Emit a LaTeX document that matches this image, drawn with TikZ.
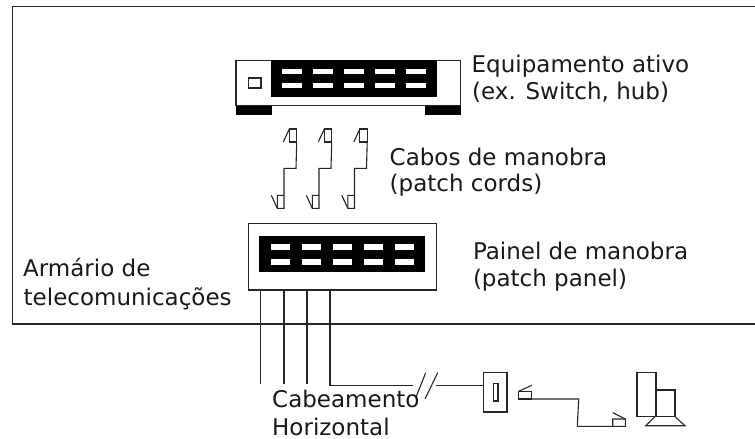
\documentclass[tikz,border=0pt]{standalone}
\usepackage{fontspec}
\setmainfont{DejaVu Sans}
\tikzset{
  ln/.style={draw=black!85,line width=1.1pt},
  blk/.style={fill=black},
  slot/.style={fill=white},
  lbl/.style={anchor=base west,inner sep=0pt,font=\fontsize{23}{27}\selectfont,text=black!90},
}
\newcommand{\cord}[1]{\begin{scope}[xshift=#1pt]
  \draw[ln] (289.3,129) rectangle (296.7,142);
  \draw[ln] (283.3,142) -- (289.3,129);
  \draw[ln] (296.7,142) -- (296,168.3) -- (284,168.3) -- (284,208.3) -- (277.3,208.3) -- (277.3,195.3) -- (284,195.3);
  \draw[ln] (277.3,208.3) -- (271.3,195.3);
\end{scope}}
\begin{document}
\begin{tikzpicture}[x=1pt,y=-1pt]
\useasboundingbox (0,0) rectangle (755,439);
% room frame
\draw[ln] (755,6.5) -- (12.5,6.5) -- (12.5,324) -- (755,324);
% active equipment
\draw[ln,fill=white] (236,60.3) rectangle (460.7,105.7);
\fill[blk] (271.3,60) rectangle (436.7,97.3);
\fill[blk] (236,105.5) rectangle (272,115);
\fill[blk] (424.5,105.5) rectangle (461,115);
\foreach \x in {282,313,344,375,405.7}{
  \fill[slot] (\x,68.7) rectangle +(20,5.3);
  \fill[slot] (\x,83) rectangle +(20,5.3);
}
\draw[ln] (248.3,78) rectangle (261,88);
% patch cords
\cord{0}\cord{35}\cord{70.5}
% patch panel
\draw[ln] (248.3,223.7) rectangle (436.3,290);
\fill[blk] (259.3,236.3) rectangle (425.3,272.3);
\foreach \x in {271,302,333,364,394.7}{
  \fill[slot] (\x,244.3) rectangle +(19,6);
  \fill[slot] (\x,258.7) rectangle +(19,6.3);
}
% horizontal cabling
\draw[ln] (260.7,290) -- (260.7,384);
\draw[ln] (284,290) -- (284,384);
\draw[ln] (307,290) -- (307,384);
\draw[ln] (330,290) -- (330,385.5) -- (413,385.5);
\draw[ln] (425.7,372.7) -- (415.7,398);
\draw[ln] (437.7,372.7) -- (425,399);
\draw[ln] (435.7,385.5) -- (483.3,385.5);
% outlet
\draw[ln] (483.3,372.3) rectangle (507,412);
\draw[ln] (493.7,383.3) rectangle (498,401);
% user cord
\draw[ln] (518.7,391.3) rectangle (531.3,399);
\draw[ln] (518.7,391.3) -- (531.7,385.3);
\draw[ln] (531.3,399) -- (578.7,399) -- (578,412.7) -- (577.3,426.3) -- (625.3,426.3) -- (625.3,419) -- (612.7,419) -- (612.7,426.3);
\draw[ln] (612.7,412.7) -- (625.3,419);
% computer
\draw[ln] (637,372.3) rectangle (656,416.7);
\draw[ln] (656,390) rectangle (675,416.7);
\draw[ln] (655,416.7) -- (645.7,425.7) -- (685,425.7) -- (675,416.7);
% labels
\node[lbl] (a) at (471.5,72.3) {Equipamento ativo};
\node[lbl] (b) at (472,99.3) {(ex. Switch, hub)};
\node[lbl] (c) at (389.5,165) {Cabos de manobra};
\node[lbl] (d) at (389.5,191.7) {(patch cords)};
\node[lbl] (e) at (472.8,259.3) {Painel de manobra};
\node[lbl] (f) at (472.8,286.7) {(patch panel)};
\node[lbl] (g) at (23,276.7) {Armário de};
\node[lbl] (h) at (23.5,305) {telecomunicações};
\node[lbl] (i) at (272,407.7) {Cabeamento};
\node[lbl] (j) at (272,435) {Horizontal};
\end{tikzpicture}
\end{document}
